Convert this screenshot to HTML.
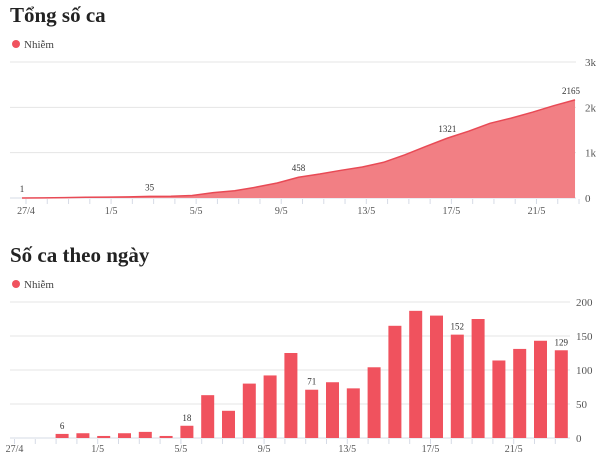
<!DOCTYPE html>
<html><head><meta charset="utf-8"><style>
body{margin:0;background:#fff;width:600px;height:457px;overflow:hidden;font-family:"Liberation Serif",serif}
svg{display:block}
</style></head><body>
<svg width="600" height="457">
<text x="10" y="22" font-size="21" font-weight="bold" fill="#222">Tổng số ca</text>
<circle cx="16" cy="44" r="4" fill="#f0525e"/>
<text x="24" y="48" font-size="11" fill="#444">Nhiễm</text>
<g id="topchart"></g>
<text x="10" y="262" font-size="21" font-weight="bold" fill="#222">Số ca theo ngày</text>
<circle cx="16" cy="284" r="4" fill="#f0525e"/>
<text x="24" y="288" font-size="11" fill="#444">Nhiễm</text>
<g id="botchart"></g>
</svg>
<script>
const dates=["27/4","28/4","29/4","30/4","1/5","2/5","3/5","4/5","5/5","6/5","7/5","8/5","9/5","10/5","11/5","12/5","13/5","14/5","15/5","16/5","17/5","18/5","19/5","20/5","21/5","22/5","23/5"];
const cumulative=[1,3,9,16,19,26,35,38,56,119,159,239,331,458,529,611,684,788,953,1140,1321,1473,1648,1762,1893,2036,2165];
const daily=[0,0,6,7,3,7,9,3,18,63,40,80,92,125,71,82,73,104,165,187,180,152,175,114,131,143,129];
const topTicks=[0,1000,2000,3000];
const topTickLabels=["0","1k","2k","3k"];
const botTicks=[0,50,100,150,200];
const cumLabelIdx=[0,6,13,20,26];
const dailyLabelIdx=[2,8,14,21,26];
const NS="http://www.w3.org/2000/svg";
function mk(p,t,a){const e=document.createElementNS(NS,t);for(const k in a)e.setAttribute(k,a[k]);p.appendChild(e);return e;}
const topG=document.getElementById('topchart'),botG=document.getElementById('botchart');
const tx=i=>22+21.27*i, ty=v=>198-v*(136/3000);
topTicks.forEach((v,k)=>{
  const l=mk(topG,'line',{x1:10,x2:576,y1:ty(v),y2:ty(v),stroke:k?'#e4e4e4':'#d6dbe6','stroke-width':1});
  
  
  const t=mk(topG,'text',{x:585,y:ty(v)+4,'font-size':11,fill:'#555'});t.textContent=topTickLabels[k];
  
  
});
let d='M'+tx(0)+','+ty(0);
cumulative.forEach((v,i)=>d+=' L'+tx(i)+','+ty(v));
d+=' L'+tx(cumulative.length-1)+','+ty(0)+' Z';
const ar=mk(topG,'path',{d:d,fill:'#f27f84'});


const ln=mk(topG,'polyline',{points:cumulative.map((v,i)=>tx(i)+','+ty(v)).join(' '),fill:'none',stroke:'#e84a55','stroke-width':1.5});


dates.forEach((s,i)=>{
  const tk=mk(topG,'line',{x1:tx(i)+4,x2:tx(i)+4,y1:199,y2:204,stroke:'#d6dbe6'});
  
  
  if(i%4===0){const t=mk(topG,'text',{x:tx(i)+4,y:214,'font-size':10,fill:'#555','text-anchor':'middle'});t.textContent=s;
  
  }
});
cumLabelIdx.forEach(i=>{const t=mk(topG,'text',{x:tx(i)-(i===26?4:0),y:ty(cumulative[i])-6,'font-size':9,fill:'#333','text-anchor':'middle'});t.textContent=cumulative[i];
  
  });
const bx=i=>20.5+20.8*i, by=v=>438-v*(136/200);
botTicks.forEach((v,k)=>{
  const l=mk(botG,'line',{x1:10,x2:570,y1:by(v),y2:by(v),stroke:k?'#e4e4e4':'#d6dbe6','stroke-width':1});
  
  
  const t=mk(botG,'text',{x:576,y:by(v)+4,'font-size':11,fill:'#555'});t.textContent=v;
  
  
});
dates.forEach((s,i)=>{
  const tk=mk(botG,'line',{x1:bx(i)-6,x2:bx(i)-6,y1:439,y2:444,stroke:'#d6dbe6'});
  
  
  if(i%4===0){const t=mk(botG,'text',{x:bx(i)-6,y:452,'font-size':10,fill:'#555','text-anchor':'middle'});t.textContent=s;
  
  }
  if(daily[i]>0){const r=mk(botG,'rect',{x:bx(i)-6.5,y:by(daily[i]),width:13,height:438-by(daily[i]),fill:'#f0525e'});
  
  }
});
dailyLabelIdx.forEach(i=>{const t=mk(botG,'text',{x:bx(i),y:by(daily[i])-5,'font-size':9,fill:'#333','text-anchor':'middle'});t.textContent=daily[i];
  
  });
</script>
</body></html>
